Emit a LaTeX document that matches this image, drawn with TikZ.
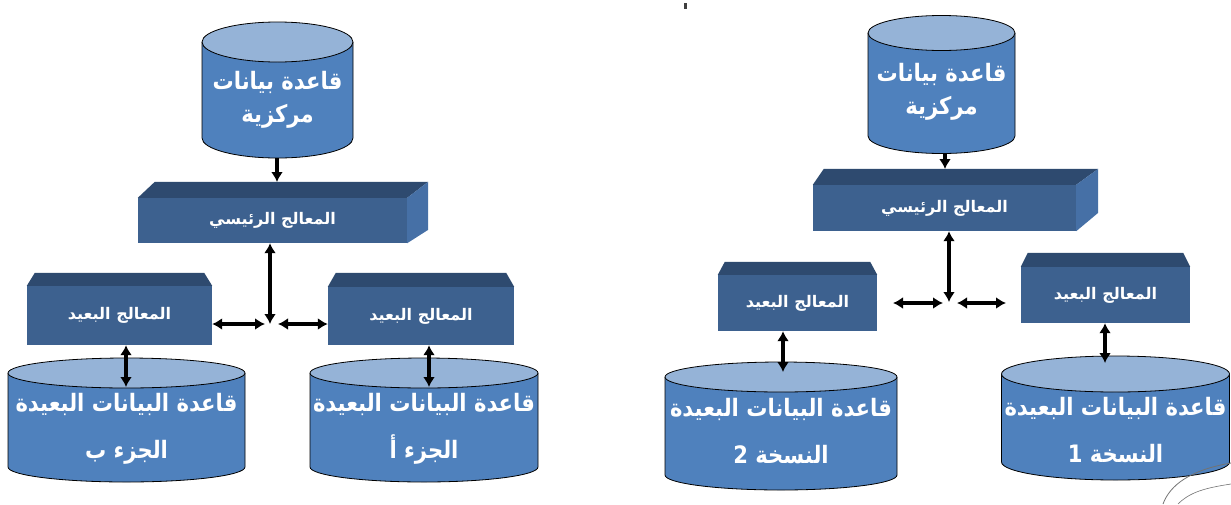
\documentclass[tikz,border=0pt]{standalone}
\usepackage{fontspec}
\newfontfamily\arabicfont[Script=Arabic]{DejaVu Sans}
\TeXXeTstate=1
\usetikzlibrary{arrows.meta,calc}
\definecolor{cylbody}{HTML}{4F81BD}
\definecolor{cyltop}{HTML}{95B3D7}
\definecolor{boxfront}{HTML}{3D618F}
\definecolor{boxtop}{HTML}{2E4A6F}
\definecolor{boxright}{HTML}{4670A6}
\newcommand\arline[1]{\scalebox{0.88}[1]{\beginR #1\endR}}
\tikzset{
  conn/.style={line width=3.2pt,-{Latex[length=10pt,width=12pt]}},
  conntwo/.style={line width=3.2pt,{Latex[length=10pt,width=12pt]}-{Latex[length=10pt,width=12pt]}},
  cyledge/.style={draw=black,line width=0.8pt},
  bigtext/.style={text=white,font=\arabicfont\bfseries\fontsize{24}{33}\selectfont,align=center,inner sep=0pt},
  remtext/.style={text=white,font=\arabicfont\bfseries\fontsize{24}{47}\selectfont,align=center,inner sep=0pt},
  frontbox/.style={fill=boxfront,inner sep=0pt,text=white,font=\arabicfont\bfseries\fontsize{16}{18}\selectfont},
}
% #1 cx, #2 rx, #3 y of top ellipse centre, #4 y of bottom ellipse centre, #5 ry
\newcommand\dbcyl[5]{%
  \fill[cylbody] (#1-#2,#3) -- (#1-#2,#4) arc[start angle=180,end angle=360,x radius=#2pt,y radius=#5pt] -- (#1+#2,#3) -- cycle;
  \draw[cyledge] (#1-#2,#3) -- (#1-#2,#4) arc[start angle=180,end angle=360,x radius=#2pt,y radius=#5pt] -- (#1+#2,#3);
  \filldraw[cyledge,fill=cyltop] (#1,#3) ellipse[x radius=#2pt,y radius=#5pt];
}
% main processor box faces: #1 node, #2 left slant, #3 right depth, #4 height, #5 right face drop
\newcommand\mainfaces[5]{%
  \fill[boxtop] (#1.north west) -- ++(#2,-#4) -- ($(#1.north east)+(#3,-#4)$) -- (#1.north east) -- cycle;
  \fill[boxright] (#1.north east) -- ++(#3,-#4) -- ++(0,#5) -- (#1.south east) -- cycle;
}
% remote processor top cap: #1 node, #2 slant, #3 height
\newcommand\remcap[3]{%
  \fill[boxtop] (#1.north west) -- ++(#2,-#3) -- ($(#1.north east)+(-#2,-#3)$) -- (#1.north east) -- cycle;
}
\begin{document}
\begin{tikzpicture}[x=1pt,y=-1pt]
\useasboundingbox (0,0) rectangle (1231,504);
\fill[white] (0,0) rectangle (1231,504);

% ================= LEFT DIAGRAM =================
\dbcyl{277.5}{75.5}{42}{138}{20}
\node[bigtext] (cylCL) at (277.5,100) {\arline{قاعدة بيانات}\\\arline{مركزية}};
\coordinate (cylCLbot) at (277,158);

\node[frontbox,minimum width=269pt,minimum height=45pt] (mainL) at (272.5,220.5) {\beginR المعالج الرئيسي\endR};
\mainfaces{mainL}{17}{21}{16}{48}
\coordinate (mainLtop) at (277,182);

\node[frontbox,minimum width=185pt,minimum height=59pt] (remBL) at (119.5,315.5) {\beginR المعالج البعيد\endR};
\remcap{remBL}{8}{13}
\node[frontbox,minimum width=186pt,minimum height=58pt] (remAL) at (421,316) {\beginR المعالج البعيد\endR};
\remcap{remAL}{8}{14}

\dbcyl{126.5}{118.5}{373}{467}{15}
\node[remtext] (cylBL) at (126.5,428.5) {\arline{قاعدة البيانات البعيدة}\\\arline{الجزء ب}};
\coordinate (cylBLin) at (126,387);
\dbcyl{424}{114}{373}{467}{15}
\node[remtext] (cylAL) at (424,428.5) {\arline{قاعدة البيانات البعيدة}\\\arline{الجزء أ}};
\coordinate (cylALin) at (429,387);

\coordinate (jL) at (270,324);
\draw[conn] (cylCLbot) -- (mainLtop);
\draw[conntwo] (jL |- mainL.south) -- (jL);
\draw[conntwo] (jL -| remBL.east) -- ([xshift=-5pt]jL);
\draw[conntwo] ([xshift=8pt]jL) -- (jL -| remAL.west);
\draw[conntwo] (remBL.south -| cylBLin) -- (cylBLin);
\draw[conntwo] (remAL.south -| cylALin) -- (cylALin);

% ================= RIGHT DIAGRAM =================
\dbcyl{941.5}{73.5}{33}{136}{17.5}
\node[bigtext] (cylCR) at (941.5,91.5) {\arline{قاعدة بيانات}\\\arline{مركزية}};
\coordinate (cylCRbot) at (945,153.5);

\node[frontbox,minimum width=263pt,minimum height=46pt] (mainR) at (944.5,208) {\beginR المعالج الرئيسي\endR};
\mainfaces{mainR}{11}{22}{16}{44}
\coordinate (mainRtop) at (945,169);

\node[frontbox,minimum width=159pt,minimum height=56pt] (rem2) at (797.5,303) {\beginR المعالج البعيد\endR};
\remcap{rem2}{7}{13}
\node[frontbox,minimum width=169pt,minimum height=56pt] (rem1) at (1105.5,295) {\beginR المعالج البعيد\endR};
\remcap{rem1}{7}{14}

\dbcyl{781}{116}{377}{475}{15}
\node[remtext] (cyl2) at (781,431.5) {\arline{قاعدة البيانات البعيدة}\\\arline{النسخة 2}};
\coordinate (cyl2in) at (783,372);
\dbcyl{1115.5}{114}{374}{462}{18}
\node[remtext] (cyl1) at (1115.5,430) {\arline{قاعدة البيانات البعيدة}\\\arline{النسخة 1}};
\coordinate (cyl1in) at (1105,363);

\coordinate (jR) at (949,302);
\draw[conn] (cylCRbot) -- (mainRtop);
\draw[conntwo] (jR |- mainR.south) -- (jR);
\draw[conntwo] (893,303) -- (943,303);
\draw[conntwo] (957,303) -- (1006,303);
\draw[conntwo] (rem2.south -| cyl2in) -- (cyl2in);
\draw[conntwo] (rem1.south -| cyl1in) -- (cyl1in);

% stray mark and stamp fragment
\fill[black!75] (684,3) rectangle (687,9);
\draw[black!55,line width=0.8pt] (1163,504) .. controls (1170,485) and (1190,470) .. (1231,463);
\draw[black!55,line width=0.6pt] (1178,504) .. controls (1190,492) and (1205,488) .. (1231,484);
\end{tikzpicture}
\end{document}
